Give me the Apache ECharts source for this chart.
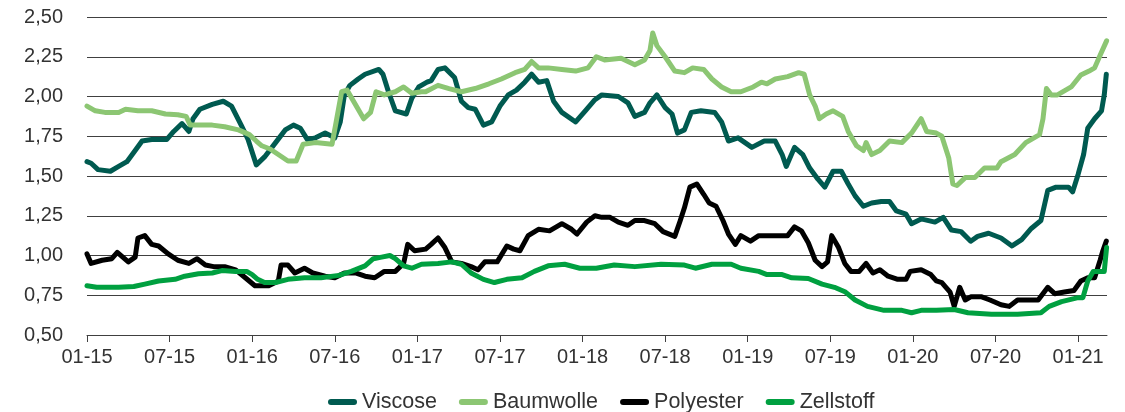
<!DOCTYPE html>
<html>
<head>
<meta charset="utf-8">
<script src="https://cdn.jsdelivr.net/npm/echarts@6/dist/echarts.min.js"></script>
<style>
html,body{margin:0;padding:0;background:#fff;}
#chart{width:1125px;height:412px;}
</style>
</head>
<body>
<div id="chart"></div>
<script>
// x = months since January 2015
var seriesNames = ['Viscose', 'Baumwolle', 'Polyester', 'Zellstoff'];
var yTicks = [0.5, 0.75, 1.0, 1.25, 1.5, 1.75, 2.0, 2.25, 2.5];

var viscose = [[0,1.59],[0.3,1.58],[0.8,1.54],[1.7,1.53],[2.3,1.56],[2.9,1.59],[3.5,1.66],[4.0,1.72],[4.7,1.73],[5.8,1.73],[6.3,1.78],[6.9,1.83],[7.1,1.81],[7.4,1.78],[7.7,1.86],[8.2,1.92],[9.1,1.95],[9.9,1.97],[10.5,1.94],[11.2,1.82],[11.7,1.73],[12.3,1.57],[12.9,1.62],[13.7,1.71],[14.4,1.79],[15.0,1.82],[15.5,1.80],[16.0,1.73],[16.6,1.74],[17.3,1.77],[18.0,1.74],[18.4,1.84],[18.7,2.01],[19.1,2.07],[19.7,2.11],[20.2,2.14],[21.2,2.17],[21.5,2.14],[21.9,2.03],[22.4,1.91],[23.2,1.89],[23.6,1.99],[24.1,2.06],[24.7,2.09],[25.0,2.10],[25.5,2.17],[26.0,2.18],[26.7,2.12],[27.2,1.97],[27.7,1.93],[28.2,1.92],[28.8,1.82],[29.4,1.84],[30.0,1.94],[30.6,2.01],[31.2,2.04],[31.8,2.09],[32.3,2.14],[32.8,2.09],[33.4,2.10],[33.9,1.97],[34.5,1.90],[35.5,1.84],[36.2,1.91],[36.9,1.98],[37.4,2.01],[38.6,2.00],[39.3,1.96],[39.8,1.875],[40.5,1.90],[40.9,1.96],[41.4,2.01],[42.0,1.93],[42.5,1.89],[42.9,1.77],[43.4,1.79],[43.9,1.90],[44.6,1.91],[45.6,1.90],[46.1,1.84],[46.6,1.72],[47.3,1.74],[48.3,1.68],[49.2,1.72],[50.0,1.72],[50.5,1.635],[50.8,1.56],[51.4,1.68],[52.0,1.635],[52.5,1.55],[53.1,1.48],[53.6,1.43],[54.2,1.53],[54.8,1.53],[55.3,1.45],[55.8,1.375],[56.4,1.31],[57.0,1.33],[57.7,1.34],[58.3,1.34],[58.8,1.28],[59.5,1.26],[59.9,1.20],[60.6,1.23],[61.6,1.21],[62.2,1.24],[62.8,1.16],[63.5,1.15],[64.2,1.09],[64.7,1.12],[65.5,1.14],[66.4,1.11],[67.2,1.06],[67.9,1.10],[68.6,1.17],[69.3,1.22],[69.8,1.41],[70.4,1.43],[71.3,1.43],[71.6,1.40],[72.0,1.51],[72.4,1.635],[72.7,1.80],[73.2,1.86],[73.7,1.91],[73.9,2.01],[74.05,2.14]];

var baumwolle = [[0,1.94],[0.6,1.91],[1.3,1.90],[2.3,1.90],[2.8,1.92],[3.7,1.91],[4.7,1.91],[5.7,1.89],[6.6,1.885],[7.2,1.875],[7.5,1.82],[8.1,1.82],[9.1,1.82],[10.0,1.81],[11.0,1.79],[11.8,1.76],[12.3,1.72],[12.7,1.69],[13.3,1.67],[13.9,1.635],[14.6,1.594],[15.2,1.594],[15.7,1.70],[16.6,1.71],[17.8,1.70],[18.1,1.84],[18.5,2.03],[18.9,2.04],[19.5,1.95],[20.1,1.86],[20.6,1.90],[21.0,2.03],[21.6,2.01],[22.4,2.03],[23.0,2.06],[23.6,2.02],[24.3,2.03],[24.6,2.03],[25.5,2.07],[26.3,2.05],[27.2,2.03],[28.2,2.05],[29.2,2.08],[30.1,2.11],[31.1,2.15],[31.8,2.17],[32.3,2.22],[32.8,2.18],[33.5,2.18],[34.5,2.17],[35.5,2.16],[36.4,2.18],[37.0,2.25],[37.6,2.23],[38.8,2.24],[39.8,2.20],[40.5,2.23],[40.9,2.29],[41.1,2.40],[41.4,2.32],[42.0,2.25],[42.7,2.16],[43.4,2.15],[44.0,2.18],[44.8,2.17],[45.4,2.11],[46.1,2.06],[46.8,2.03],[47.5,2.03],[48.4,2.06],[49.0,2.09],[49.4,2.08],[50.0,2.11],[50.9,2.125],[51.7,2.15],[52.1,2.14],[52.5,2.01],[52.9,1.94],[53.2,1.86],[53.7,1.89],[54.2,1.91],[54.9,1.875],[55.3,1.78],[55.9,1.69],[56.4,1.66],[56.6,1.71],[57.0,1.635],[57.6,1.66],[58.3,1.72],[59.2,1.71],[59.9,1.77],[60.6,1.86],[61.0,1.78],[61.7,1.77],[62.1,1.75],[62.6,1.615],[62.9,1.45],[63.2,1.44],[63.8,1.49],[64.5,1.49],[65.2,1.55],[66.1,1.55],[66.4,1.59],[67.4,1.635],[68.2,1.71],[69.2,1.76],[69.45,1.86],[69.7,2.05],[70.05,2.01],[70.5,2.01],[71.5,2.06],[72.2,2.135],[72.8,2.16],[73.2,2.18],[73.6,2.26],[74.07,2.35]];

var polyester = [[0,1.01],[0.3,0.95],[1.1,0.97],[1.8,0.98],[2.2,1.02],[3.0,0.96],[3.5,0.99],[3.7,1.11],[4.2,1.125],[4.7,1.07],[5.2,1.06],[5.9,1.01],[6.6,0.97],[7.4,0.95],[8.0,0.98],[8.6,0.94],[9.2,0.93],[10.0,0.93],[10.8,0.91],[11.5,0.86],[12.2,0.81],[13.2,0.81],[13.9,0.84],[14.1,0.94],[14.6,0.94],[15.1,0.89],[15.8,0.92],[16.4,0.89],[17.3,0.87],[18.0,0.86],[18.7,0.89],[19.5,0.89],[20.2,0.87],[20.9,0.86],[21.6,0.90],[22.4,0.90],[23.0,0.95],[23.3,1.07],[23.8,1.03],[24.6,1.04],[25.0,1.07],[25.5,1.11],[26.0,1.05],[26.5,0.96],[27.2,0.95],[27.9,0.93],[28.4,0.91],[28.9,0.96],[29.8,0.96],[30.5,1.06],[31.0,1.04],[31.45,1.03],[32.05,1.125],[32.8,1.165],[33.6,1.155],[34.5,1.20],[35.2,1.165],[35.6,1.135],[36.3,1.21],[36.9,1.25],[37.4,1.24],[38.0,1.24],[38.6,1.21],[39.3,1.19],[39.8,1.22],[40.5,1.22],[41.25,1.20],[41.85,1.15],[42.7,1.12],[43.1,1.22],[43.4,1.30],[43.8,1.43],[44.3,1.45],[44.8,1.385],[45.2,1.33],[45.7,1.31],[46.2,1.22],[46.6,1.135],[47.1,1.07],[47.5,1.125],[48.2,1.09],[48.8,1.125],[49.4,1.125],[50.2,1.125],[50.9,1.125],[51.4,1.18],[51.9,1.155],[52.4,1.08],[52.9,0.97],[53.4,0.93],[53.8,0.96],[54.1,1.125],[54.6,1.05],[55.05,0.95],[55.5,0.90],[56.1,0.90],[56.6,0.95],[57.1,0.89],[57.6,0.91],[58.2,0.87],[58.9,0.85],[59.5,0.85],[59.8,0.90],[60.6,0.91],[61.3,0.88],[61.7,0.84],[62.1,0.83],[62.7,0.77],[63.0,0.68],[63.4,0.80],[63.8,0.72],[64.2,0.74],[65.0,0.74],[65.6,0.72],[66.4,0.69],[67.0,0.68],[67.6,0.72],[68.4,0.72],[69.1,0.72],[69.8,0.80],[70.3,0.76],[71.0,0.77],[71.7,0.78],[72.2,0.84],[72.7,0.86],[73.2,0.86],[73.6,0.97],[73.8,1.03],[74.05,1.09]];

var zellstoff = [[0,0.81],[0.7,0.80],[2.3,0.80],[3.4,0.805],[4.2,0.82],[5.2,0.84],[6.4,0.85],[7.1,0.87],[8.1,0.885],[9.1,0.89],[9.8,0.905],[10.8,0.90],[11.6,0.90],[12.0,0.88],[12.4,0.85],[12.9,0.83],[13.7,0.83],[14.6,0.85],[15.8,0.86],[17.0,0.86],[18.3,0.875],[19.2,0.90],[20.2,0.935],[20.8,0.98],[21.4,0.99],[22.0,1.00],[22.4,0.98],[23.0,0.935],[23.6,0.92],[24.3,0.945],[25.5,0.95],[26.5,0.96],[27.2,0.945],[27.9,0.89],[28.8,0.85],[29.6,0.83],[30.5,0.85],[31.6,0.86],[32.5,0.90],[33.5,0.935],[34.7,0.945],[35.8,0.92],[37.0,0.92],[38.3,0.94],[39.8,0.93],[41.7,0.945],[43.4,0.94],[44.2,0.92],[45.4,0.945],[46.8,0.945],[47.5,0.92],[48.8,0.90],[49.4,0.88],[50.5,0.88],[51.2,0.86],[52.4,0.855],[53.4,0.82],[54.3,0.80],[55.1,0.77],[55.8,0.72],[56.7,0.68],[57.9,0.655],[59.2,0.655],[59.9,0.64],[60.6,0.655],[61.7,0.655],[63.0,0.66],[64.0,0.64],[65.7,0.63],[67.6,0.63],[69.3,0.64],[69.9,0.68],[70.8,0.71],[72.0,0.735],[72.35,0.735],[72.7,0.84],[73.1,0.90],[73.9,0.90],[74.07,1.05]];

var colors = ['#005a50', '#8cc673', '#000000', '#00a040'];

function xLabel(v) {
  var m = Math.round(v);
  var mm = (m % 12 === 0) ? '01' : '07';
  var yy = 15 + Math.floor(m / 12);
  return mm + '-' + yy;
}

var chart = echarts.init(document.getElementById('chart'), null, {renderer: 'canvas'});
var dataSets = [viscose, baumwolle, polyester, zellstoff];
var legendIcon = 'path://M3,0 L26,0 A3,3 0 0 1 26,6 L3,6 A3,3 0 0 1 3,0 Z';

chart.setOption({
  animation: false,
  color: colors,
  textStyle: {fontFamily: 'Liberation Sans, Arial, sans-serif'},
  grid: {left: 87, right: 18, top: 17, bottom: 77, containLabel: false},
  legend: {
    data: seriesNames.map(function (n) { return {name: n, icon: legendIcon}; }),
    left: 323,
    top: 386,
    itemWidth: 29,
    itemHeight: 6,
    itemGap: 22,
    textStyle: {fontSize: 21.5, color: '#333', fontFamily: 'Liberation Sans, Arial, sans-serif'}
  },
  xAxis: {
    type: 'value',
    min: 0,
    max: 74.1,
    interval: 6,
    axisLine: {show: true, lineStyle: {color: '#404040', width: 1}},
    axisTick: {show: true, length: 7, lineStyle: {color: '#404040'}},
    splitLine: {show: false},
    axisLabel: {
      formatter: xLabel,
      fontSize: 20,
      color: '#333',
      margin: 12,
      showMaxLabel: false
    }
  },
  yAxis: {
    type: 'value',
    min: yTicks[0],
    max: yTicks[yTicks.length - 1],
    interval: 0.25,
    axisLine: {show: false},
    axisTick: {show: false},
    splitLine: {show: true, lineStyle: {color: '#404040', width: 1}},
    axisLabel: {
      formatter: function (v) { return v.toFixed(2).replace('.', ','); },
      fontSize: 20,
      color: '#333',
      margin: 24
    }
  },
  series: seriesNames.map(function (n, i) {
    return {
      name: n,
      type: 'line',
      data: dataSets[i],
      showSymbol: false,
      symbol: 'none',
      lineStyle: {width: 5, color: colors[i], cap: 'round', join: 'round'},
      itemStyle: {color: colors[i]}
    };
  })
});
</script>
</body>
</html>
